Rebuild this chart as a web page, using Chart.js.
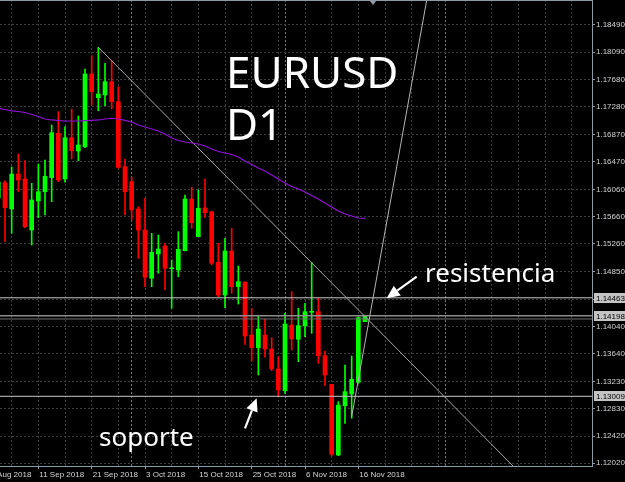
<!DOCTYPE html>
<html><head><meta charset="utf-8">
<script src="https://cdn.jsdelivr.net/npm/chart.js@4.4.0/dist/chart.umd.min.js"></script>
<style>html,body{margin:0;padding:0;background:#000;overflow:hidden}canvas{display:block}</style>
</head><body>
<canvas id="c" width="625" height="482"></canvas>
<script>
// ---- data (bar index of first entry = -1) ----
const firstBar = -1;
const dates = ['3 Sep 2018','4 Sep 2018','5 Sep 2018','6 Sep 2018','7 Sep 2018','10 Sep 2018','11 Sep 2018','12 Sep 2018','13 Sep 2018','14 Sep 2018','17 Sep 2018','18 Sep 2018','19 Sep 2018','20 Sep 2018','21 Sep 2018','24 Sep 2018','25 Sep 2018','26 Sep 2018','27 Sep 2018','28 Sep 2018','1 Oct 2018','2 Oct 2018','3 Oct 2018','4 Oct 2018','5 Oct 2018','8 Oct 2018','9 Oct 2018','10 Oct 2018','11 Oct 2018','12 Oct 2018','15 Oct 2018','16 Oct 2018','17 Oct 2018','18 Oct 2018','19 Oct 2018','22 Oct 2018','23 Oct 2018','24 Oct 2018','25 Oct 2018','26 Oct 2018','29 Oct 2018','30 Oct 2018','31 Oct 2018','1 Nov 2018','2 Nov 2018','5 Nov 2018','6 Nov 2018','7 Nov 2018','8 Nov 2018','9 Nov 2018','12 Nov 2018','13 Nov 2018','14 Nov 2018','15 Nov 2018','16 Nov 2018','19 Nov 2018'];
const opens = [1.15936,1.16162,1.15774,1.16290,1.16217,1.15464,1.15892,1.16029,1.16236,1.16891,1.16217,1.16826,1.16630,1.16693,1.17767,1.17417,1.17457,1.17653,1.17358,1.16398,1.16177,1.15774,1.15464,1.14751,1.15110,1.15228,1.14892,1.14873,1.15158,1.15921,1.15365,1.15789,1.15734,1.14987,1.14504,1.15154,1.14627,1.14692,1.13914,1.13726,1.13914,1.13707,1.13412,1.13092,1.14061,1.13850,1.14047,1.14249,1.14258,1.13608,1.13186,1.12142,1.12870,1.13043,1.13216,1.14110];
const highs = [1.16231,1.16192,1.16394,1.16586,1.16487,1.16153,1.16438,1.16497,1.17014,1.17210,1.16989,1.17250,1.17147,1.17840,1.18037,1.18161,1.17925,1.17963,1.17579,1.16512,1.16242,1.15808,1.15932,1.15415,1.15390,1.15267,1.15021,1.15439,1.15980,1.16094,1.16054,1.16217,1.15744,1.15267,1.15341,1.15489,1.14932,1.14701,1.14308,1.14199,1.14150,1.13874,1.13593,1.14234,1.14553,1.14308,1.14382,1.14987,1.14456,1.13678,1.13186,1.12929,1.13471,1.13604,1.14184,1.14209];
const lows = [1.15877,1.15291,1.15415,1.16032,1.15493,1.15242,1.15645,1.15685,1.15882,1.16177,1.16168,1.16512,1.16487,1.16679,1.17309,1.17225,1.17299,1.17250,1.16375,1.15685,1.15611,1.15046,1.14627,1.14627,1.14825,1.14578,1.14308,1.14774,1.15154,1.15489,1.15365,1.15645,1.14947,1.14479,1.14317,1.14529,1.14371,1.13776,1.13530,1.13323,1.13585,1.13387,1.13003,1.13053,1.13692,1.13520,1.13889,1.13939,1.13496,1.13165,1.12128,1.12132,1.12610,1.12684,1.13201,1.14110];
const closes = [1.16172,1.15793,1.16290,1.16202,1.15513,1.15907,1.16029,1.16257,1.16900,1.16202,1.16826,1.16634,1.16719,1.17767,1.17505,1.17471,1.17653,1.17358,1.16389,1.16029,1.15759,1.15464,1.14766,1.15135,1.15183,1.14898,1.14903,1.15179,1.15921,1.15572,1.15784,1.15719,1.14972,1.14504,1.15154,1.14627,1.14701,1.13899,1.13726,1.14002,1.13707,1.13412,1.13102,1.14076,1.13855,1.14051,1.14258,1.14258,1.13608,1.13323,1.12153,1.12880,1.13077,1.13260,1.14169,1.14198];
const movingAvg = [1.17260,1.17243,1.17223,1.17213,1.17198,1.17169,1.17139,1.17102,1.17088,1.17080,1.17073,1.17073,1.17073,1.17077,1.17083,1.17088,1.17102,1.17113,1.17102,1.17083,1.17058,1.17014,1.16984,1.16955,1.16925,1.16881,1.16822,1.16785,1.16763,1.16748,1.16733,1.16704,1.16660,1.16623,1.16600,1.16578,1.16541,1.16482,1.16431,1.16379,1.16335,1.16276,1.16217,1.16158,1.16106,1.16069,1.16025,1.15973,1.15921,1.15862,1.15803,1.15744,1.15700,1.15670,1.15641,1.15634];
const yTickValues = [1.12020,1.12420,1.12830,1.13230,1.13640,1.14040,1.14440,1.14850,1.15260,1.15660,1.16060,1.16470,1.16870,1.17280,1.17680,1.18090,1.18490];
const xLabelBars = [-3,5,13,21,29,37,45,53];
const xLabelTexts = ['30 Aug 2018','11 Sep 2018','21 Sep 2018','3 Oct 2018','15 Oct 2018','25 Oct 2018','6 Nov 2018','16 Nov 2018'];
const monthSeparators = [19,42,66];
const resistance = 1.14463;
const support = 1.13009;
const bidPrice = 1.14198;
const extraLevel = 1.14150;
const downTrend = [{x:14,y:1.18161},{x:76.2,y:1.11980}];
const upLine = [{x:52,y:1.12708},{x:63.8,y:1.19154}];

// ---- view ----
const X_MIN = -0.75, X_MAX = 88.05, Y_MIN = 1.11980, Y_MAX = 1.18859;
const UP = '#00ff00', DOWN = '#ff0000';
const labelMap = {}; xLabelBars.forEach((b,i)=>labelMap[b]=xLabelTexts[i]);
const xTickValues = [];
for (let v=-3; v<=X_MAX; v+=4) xTickValues.push(v);
monthSeparators.forEach(v=>xTickValues.push(v));
xTickValues.sort((a,b)=>a-b);
const candleColor = i => closes[i] >= opens[i] ? UP : DOWN;
const barX = i => i + firstBar;

const notes = [
  {text:'EURUSD', bar:33.15, price:1.17556, size:44},
  {text:'D1', bar:33.15, price:1.16785, size:44},
  {text:'resistencia', bar:63.0, price:1.14703, size:26},
  {text:'soporte', bar:14.1, price:1.12280, size:26}
];
const arrows = [
  {from:{bar:61.75, price:1.14774}, to:{bar:57.25, price:1.14458}},
  {from:{bar:36.0, price:1.12536}, to:{bar:37.75, price:1.12979}}
];
const priceBoxes = [resistance, bidPrice, support];

const overlay = {
  id:'overlay',
  afterDraw(chart){
    const {ctx, chartArea:a, scales:{x,y}} = chart;
    ctx.save();
    ctx.strokeStyle = '#8e9aa6'; ctx.lineWidth = 1;
    ctx.beginPath(); ctx.moveTo(a.left, a.top+0.5); ctx.lineTo(a.right, a.top+0.5); ctx.stroke();
    const sx = x.getPixelForValue(55.2);
    ctx.fillStyle = '#8e9aa6';
    ctx.beginPath(); ctx.moveTo(sx-4, a.top); ctx.lineTo(sx+4, a.top); ctx.lineTo(sx, a.top+5); ctx.closePath(); ctx.fill();

    ctx.save();
    ctx.beginPath(); ctx.rect(a.left, a.top, a.right-a.left, a.bottom-a.top); ctx.clip();
    ctx.fillStyle = '#ffffff'; ctx.textAlign = 'left'; ctx.textBaseline = 'alphabetic';
    notes.forEach(n => {
      ctx.font = n.size + 'px "Noto Sans"';
      ctx.fillText(n.text, x.getPixelForValue(n.bar), y.getPixelForValue(n.price));
    });
    arrows.forEach(ar => {
      const x0 = x.getPixelForValue(ar.from.bar), y0 = y.getPixelForValue(ar.from.price);
      const x1 = x.getPixelForValue(ar.to.bar), y1 = y.getPixelForValue(ar.to.price);
      const ang = Math.atan2(y1-y0, x1-x0), hl = 13, hw = 6;
      const bx = x1 - hl*Math.cos(ang), by = y1 - hl*Math.sin(ang);
      ctx.strokeStyle = '#ffffff'; ctx.lineWidth = 2.2;
      ctx.beginPath(); ctx.moveTo(x0,y0); ctx.lineTo(bx,by); ctx.stroke();
      ctx.beginPath(); ctx.moveTo(x1,y1);
      ctx.lineTo(bx + hw*Math.sin(ang), by - hw*Math.cos(ang));
      ctx.lineTo(bx - hw*Math.sin(ang), by + hw*Math.cos(ang));
      ctx.closePath(); ctx.fillStyle = '#ffffff'; ctx.fill();
    });
    ctx.restore();

    ctx.font = '8px "Liberation Sans"'; ctx.textBaseline = 'middle';
    priceBoxes.forEach(v => {
      const py = Math.round(y.getPixelForValue(v));
      ctx.fillStyle = '#c4c4c4';
      ctx.fillRect(a.right+2, py-5, 625-a.right-2, 10);
      ctx.fillStyle = '#000000';
      ctx.fillText(v.toFixed(5), a.right+4, py+0.5);
    });
    ctx.restore();
  }
};

const hline = (v, color, w) => ({type:'line', data:[{x:X_MIN,y:v},{x:X_MAX,y:v}], borderColor:color, borderWidth:w, pointRadius:0, order:0});

new Chart(document.getElementById('c'), {
  type:'bar',
  data:{
    datasets:[
      {type:'line', data:movingAvg.map((v,i)=>({x:barX(i), y:v})), borderColor:'#9012d8', borderWidth:1.2, pointRadius:0, tension:0, order:0},
      {type:'line', data:downTrend, borderColor:'#a8a8a8', borderWidth:1, pointRadius:0, order:0},
      {type:'line', data:upLine, borderColor:'#b4b4b4', borderWidth:1, pointRadius:0, order:0},
      hline(resistance, '#c8c8c8', 1),
      hline(support, '#c8c8c8', 1),
      hline(bidPrice, '#8c8c8c', 1.5),
      hline(extraLevel, '#707070', 1),
      {data:opens.map((o,i)=>({x:barX(i), y:[o, closes[i]]})), backgroundColor:c=>candleColor(c.dataIndex), barThickness:4, grouped:false, borderWidth:0, minBarLength:1, order:1},
      {data:lows.map((l,i)=>({x:barX(i), y:[l, highs[i]]})), backgroundColor:c=>candleColor(c.dataIndex), barThickness:1, grouped:false, borderWidth:0, order:2}
    ]
  },
  options:{
    responsive:false, animation:false, events:[],
    layout:{padding:0},
    plugins:{legend:{display:false}, tooltip:{enabled:false}},
    scales:{
      x:{
        type:'linear', min:X_MIN, max:X_MAX, offset:false, bounds:'data',
        grid:{offset:false, lineWidth:1, tickLength:3,
          color:c => monthSeparators.includes(c.tick && c.tick.value) ? '#6a7a8e' : '#3e3e3e',
          tickColor:c => (c.tick && labelMap[c.tick.value] !== undefined) ? '#8e9aa6' : 'rgba(0,0,0,0)'},
        border:{display:true, color:'#8e9aa6', dash:[2,2]},
        ticks:{autoSkip:false, maxRotation:0, minRotation:0, align:'start', labelOffset:1, padding:1,
          color:'#d4d4d4', font:{family:'Liberation Sans', size:8},
          callback:v => labelMap[v] !== undefined ? labelMap[v] : ''},
        afterBuildTicks:s => { s.ticks = xTickValues.map(v=>({value:v})); },
        afterFit:s => { s.height = 16; s.paddingLeft = 0; s.paddingRight = 0; }
      },
      y:{
        type:'linear', position:'right', min:Y_MIN, max:Y_MAX, beginAtZero:false, bounds:'data',
        grid:{color:'#3e3e3e', lineWidth:1, tickLength:3, tickColor:'#8e9aa6'},
        border:{display:true, color:'#8e9aa6', dash:[2,2]},
        ticks:{padding:1, color:'#d4d4d4', font:{family:'Liberation Sans', size:8},
          callback:v => Number(v).toFixed(5)},
        afterBuildTicks:s => { s.ticks = yTickValues.map(v=>({value:v})); },
        afterFit:s => { s.width = 33; s.paddingTop = 0; s.paddingBottom = 0; }
      }
    }
  },
  plugins:[overlay]
});
</script>
</body></html>
